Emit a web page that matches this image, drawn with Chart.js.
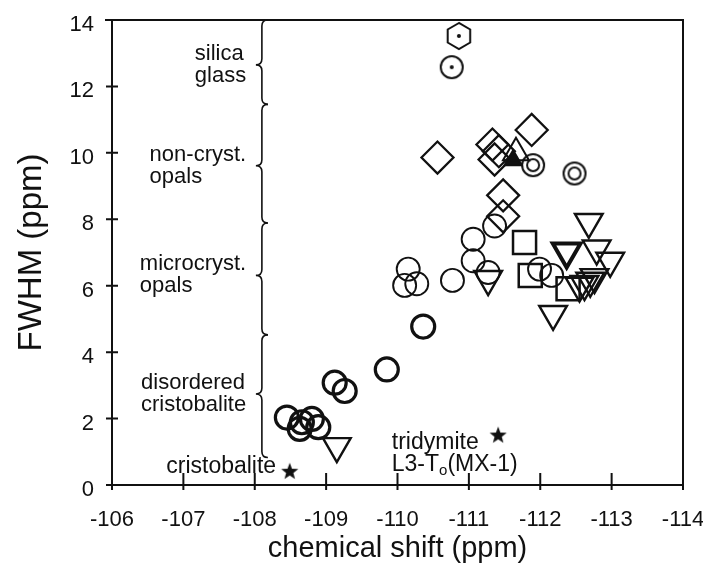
<!DOCTYPE html>
<html>
<head>
<meta charset="utf-8">
<script src="https://cdn.jsdelivr.net/npm/chart.js@4.4.0/dist/chart.umd.min.js"></script>
<style>
  html, body { margin: 0; padding: 0; background: #fff; }
  #wrap { width: 703px; height: 578px; }
</style>
</head>
<body>
<div id="wrap"><canvas id="chart" width="703" height="578"></canvas></div>
<script>
// axis ticks
var xTicks = [-106, -107, -108, -109, -110, -111, -112, -113, -114];
var yTicks = [0, 2, 4, 6, 8, 10, 12, 14];

// [chemical shift, FWHM]
var glassHex = [[-110.86, 13.52]];
var glassDot = [[-110.76, 12.58]];
var diamonds = [[-110.56, 9.86], [-111.88, 10.69], [-111.33, 10.25], [-111.42, 10.05],
                [-111.36, 9.8], [-111.48, 8.72], [-111.48, 8.09]];
var rings = [[-111.9, 9.63], [-112.48, 9.38]];
var upTri = [[-111.66, 10.0]];
var upTriFilled = [[-111.62, 9.78]];
var circles = [[-111.36, 7.8], [-111.06, 7.4], [-111.06, 6.75], [-110.15, 6.5], [-110.1, 6.01],
               [-110.27, 6.06], [-110.77, 6.16], [-111.27, 6.4], [-111.99, 6.5], [-112.16, 6.31]];
var boldCircles = [[-110.36, 4.77], [-109.85, 3.48], [-109.12, 3.08], [-109.26, 2.83], [-108.45, 2.03],
                   [-108.66, 1.89], [-108.63, 1.69], [-108.8, 1.99], [-108.89, 1.74]];
var squares = [[-111.78, 7.3], [-111.86, 6.31], [-112.39, 5.91]];
var triangles = [[-111.27, 6.2], [-112.68, 7.92], [-112.79, 7.12], [-112.98, 6.75], [-112.76, 6.26],
                 [-112.55, 6.0], [-112.62, 6.05], [-112.7, 6.15], [-112.18, 5.15], [-109.15, 1.17]];
var boldTriangles = [[-112.37, 7.03]];
var stars = [[-108.49, 0.4], [-111.41, 1.49]];

// bracket groups on the left: [top, bottom, tip] in FWHM units, with their labels
var bracketRanges = [[14, 11.46, 12.65], [11.46, 7.89, 9.61], [7.89, 4.52, 6.31], [4.52, 0.83, 2.74]];
var bracketLabels = [['silica', 'glass'], ['non-cryst.', 'opals'], ['microcryst.', 'opals'],
                     ['disordered', 'cristobalite']];

var INK = '#111';
var FONT = "'Liberation Sans', Arial, sans-serif";

function toXY(arr) {
    return arr.map(function (p) { return { x: p[0], y: p[1] }; });
}

function makeCanvas(size, draw) {
    var c = document.createElement('canvas');
    c.width = size; c.height = size;
    var g = c.getContext('2d');
    g.strokeStyle = INK; g.fillStyle = INK; g.lineWidth = 2;
    draw(g, size / 2);
    return c;
}

var hexIcon = makeCanvas(32, function (g, m) {
    g.beginPath();
    for (var i = 0; i < 6; i++) {
        var a = Math.PI / 2 + i * Math.PI / 3;
        var px = m + 13 * Math.cos(a), py = m - 13 * Math.sin(a);
        if (i === 0) g.moveTo(px, py); else g.lineTo(px, py);
    }
    g.closePath(); g.stroke();
    g.beginPath(); g.arc(m, m, 2, 0, Math.PI * 2); g.fill();
});
var dotIcon = makeCanvas(28, function (g, m) {
    g.beginPath(); g.arc(m, m, 11, 0, Math.PI * 2); g.stroke();
    g.beginPath(); g.arc(m, m, 2, 0, Math.PI * 2); g.fill();
});
var ringIcon = makeCanvas(28, function (g, m) {
    g.beginPath(); g.arc(m, m, 11, 0, Math.PI * 2); g.stroke();
    g.beginPath(); g.arc(m, m, 6, 0, Math.PI * 2); g.stroke();
});
var starIcon = makeCanvas(22, function (g, m) {
    g.beginPath();
    for (var i = 0; i < 10; i++) {
        var r = i % 2 === 0 ? 9 : 3.8;
        var a = -Math.PI / 2 + i * Math.PI / 5;
        var px = m + r * Math.cos(a), py = m + r * Math.sin(a);
        if (i === 0) g.moveTo(px, py); else g.lineTo(px, py);
    }
    g.closePath(); g.fill();
});

function ds(data, style, radius, width, extra) {
    var d = {
        data: toXY(data),
        pointStyle: style,
        pointRadius: radius,
        pointHoverRadius: radius,
        borderColor: INK,
        backgroundColor: 'rgba(0,0,0,0)',
        borderWidth: width,
        showLine: false
    };
    for (var k in extra) d[k] = extra[k];
    return d;
}

var frame = {
    id: 'frame',
    afterDraw: function (chart) {
        var ctx = chart.ctx, a = chart.chartArea;
        var xs = chart.scales.x, ys = chart.scales.y;
        ctx.save();
        ctx.strokeStyle = INK; ctx.lineWidth = 2;
        ctx.beginPath();
        ctx.moveTo(a.left - 7, a.top); ctx.lineTo(a.right, a.top); ctx.lineTo(a.right, a.bottom);
        ctx.moveTo(a.left, a.top); ctx.lineTo(a.left, a.bottom + 5);
        ctx.moveTo(a.left - 5, a.bottom); ctx.lineTo(a.right, a.bottom);
        xTicks.forEach(function (v) {
            var px = xs.getPixelForValue(v);
            ctx.moveTo(px, a.bottom - 12); ctx.lineTo(px, a.bottom + 5);
        });
        yTicks.forEach(function (v) {
            var py = ys.getPixelForValue(v);
            ctx.moveTo(a.left - 6, py); ctx.lineTo(a.left + 6, py);
        });
        ctx.stroke();

        // brackets
        var bx = xs.getPixelForValue(-108.1), d = 6;
        ctx.lineWidth = 1.6;
        bracketRanges.forEach(function (r) {
            var y1 = ys.getPixelForValue(r[0]), y2 = ys.getPixelForValue(r[1]), ym = ys.getPixelForValue(r[2]);
            ctx.beginPath();
            ctx.moveTo(bx + d, y1);
            ctx.quadraticCurveTo(bx, y1, bx, y1 + d);
            ctx.lineTo(bx, ym - d);
            ctx.quadraticCurveTo(bx, ym, bx - d, ym);
            ctx.quadraticCurveTo(bx, ym, bx, ym + d);
            ctx.lineTo(bx, y2 - d);
            ctx.quadraticCurveTo(bx, y2, bx + d, y2);
            ctx.stroke();
        });

        // bracket labels
        ctx.fillStyle = INK;
        ctx.font = '22px ' + FONT;
        ctx.textBaseline = 'middle';
        ctx.textAlign = 'left';
        var rightEdge = xs.getPixelForValue(-107.88);
        bracketLabels.forEach(function (lines, i) {
            var w = Math.max.apply(null, lines.map(function (s) { return ctx.measureText(s).width; }));
            var cy = ys.getPixelForValue(bracketRanges[i][2]);
            ctx.fillText(lines[0], rightEdge - w, cy - 11);
            ctx.fillText(lines[1], rightEdge - w, cy + 11);
        });

        // point labels
        ctx.font = '23px ' + FONT;
        ctx.textAlign = 'right';
        ctx.fillText('cristobalite', xs.getPixelForValue(-108.3), ys.getPixelForValue(0.54));
        ctx.textAlign = 'left';
        var tx = xs.getPixelForValue(-109.92);
        ctx.fillText('tridymite', tx, ys.getPixelForValue(1.28));
        var ly = ys.getPixelForValue(0.6);
        ctx.fillText('L3-T', tx, ly);
        var w1 = ctx.measureText('L3-T').width;
        ctx.font = '15px ' + FONT;
        ctx.fillText('o', tx + w1, ly + 6);
        var w2 = ctx.measureText('o').width;
        ctx.font = '23px ' + FONT;
        ctx.fillText('(MX-1)', tx + w1 + w2, ly);
        ctx.restore();
    }
};

new Chart(document.getElementById('chart'), {
    type: 'scatter',
    data: {
        datasets: [
            ds(glassHex, hexIcon, 13, 2),
            ds(glassDot, dotIcon, 11, 2),
            ds(diamonds, 'rectRot', 16, 2.3),
            ds(rings, ringIcon, 11, 2),
            ds(upTri, 'triangle', 15, 2),
            ds(upTriFilled, 'triangle', 10, 2, { backgroundColor: INK }),
            ds(circles, 'circle', 11.5, 1.9),
            ds(boldCircles, 'circle', 11.5, 3.2),
            ds(squares, 'rect', 16.3, 2.5),
            ds(triangles, 'triangle', 16, 2.4, { rotation: 180 }),
            ds(boldTriangles, 'triangle', 16, 4, { rotation: 180 }),
            ds(stars, starIcon, 9, 0)
        ]
    },
    options: {
        responsive: false,
        animation: false,
        events: [],
        layout: { padding: { top: 15, right: 20, left: 0, bottom: 0 } },
        plugins: { legend: { display: false }, tooltip: { enabled: false } },
        scales: {
            x: {
                type: 'linear',
                reverse: true,
                min: -114,
                max: -106,
                grid: { display: false, drawTicks: false },
                border: { display: false },
                afterBuildTicks: function (s) { s.ticks = xTicks.map(function (v) { return { value: v }; }); },
                afterFit: function (s) { s.height = 93; s.paddingLeft = 0; s.paddingRight = 0; },
                ticks: { color: INK, font: { family: FONT, size: 22 }, padding: 22, maxRotation: 0 },
                title: { display: true, text: 'chemical shift (ppm)', color: INK,
                         font: { family: FONT, size: 29 }, padding: { top: 0, bottom: 12 } }
            },
            y: {
                type: 'linear',
                min: 0,
                max: 14,
                grid: { display: false, drawTicks: false },
                border: { display: false },
                afterBuildTicks: function (s) { s.ticks = yTicks.map(function (v) { return { value: v }; }); },
                afterFit: function (s) { s.width = 112; s.paddingTop = 0; s.paddingBottom = 0; },
                ticks: { color: INK, font: { family: FONT, size: 22 }, padding: 18, labelOffset: 5 },
                title: { display: true, text: 'FWHM (ppm)', color: INK,
                         font: { family: FONT, size: 33 }, padding: { top: 12, bottom: 0 } }
            }
        }
    },
    plugins: [frame]
});
</script>
</body>
</html>
